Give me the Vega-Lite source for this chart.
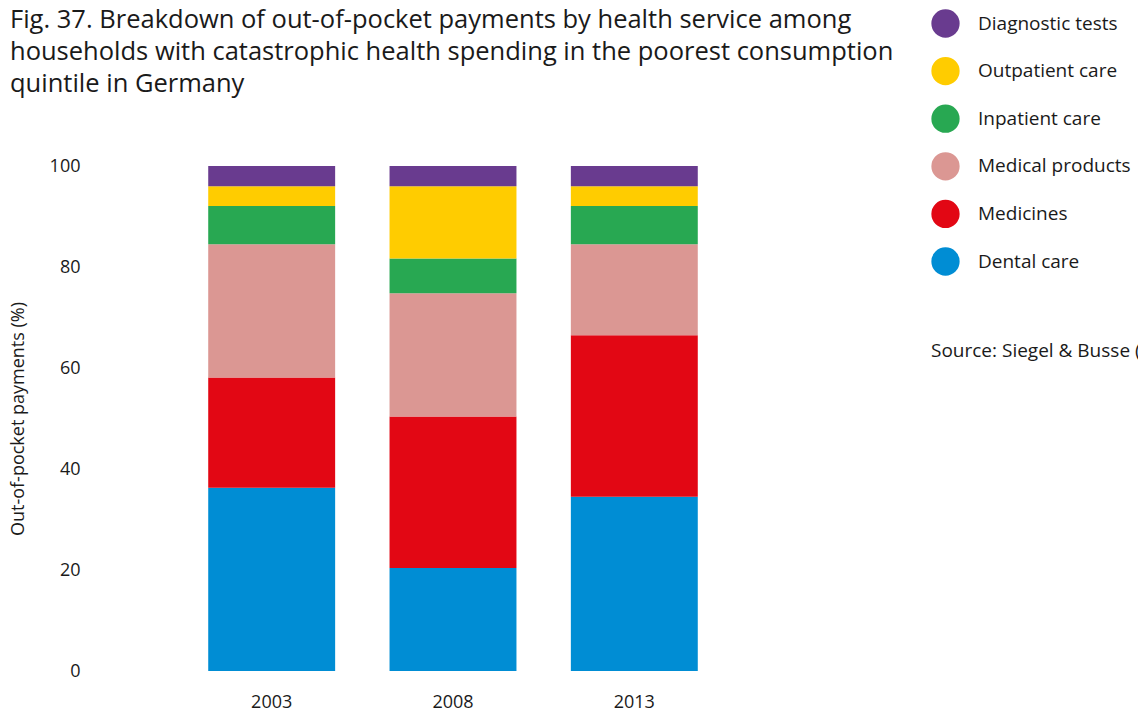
{
  "$schema": "https://vega.github.io/schema/vega-lite/v6.json",
  "autosize": "none",
  "width": 726,
  "height": 505,
  "padding": {"left": 90, "top": 166, "right": 322, "bottom": 42},
  "background": "white",
  "config": {
    "font": "Open Sans",
    "view": {"stroke": null},
    "axis": {"labelColor": "#1a1a1a", "titleColor": "#1a1a1a", "labelFont": "Open Sans", "titleFont": "Open Sans"},
    "legend": {"labelColor": "#1a1a1a", "titleColor": "#1a1a1a", "labelFont": "Open Sans", "titleFont": "Open Sans", "padding": 0}
  },
  "title": {
    "text": ["Fig. 37. Breakdown of out-of-pocket payments by health service among", "households with catastrophic health spending in the poorest consumption", "quintile in Germany"],
    "anchor": "start",
    "frame": "group",
    "dx": -80,
    "dy": 113,
    "offset": 0,
    "baseline": "bottom",
    "fontSize": 25.5,
    "lineHeight": 32,
    "fontWeight": "normal",
    "color": "#1a1a1a",
    "font": "Open Sans"
  },
  "layer": [
    {
      "data": {
        "values": [
          {"year": "2003", "service": "Dental care", "value": 36.3},
          {"year": "2003", "service": "Medicines", "value": 21.8},
          {"year": "2003", "service": "Medical products", "value": 26.4},
          {"year": "2003", "service": "Inpatient care", "value": 7.6},
          {"year": "2003", "service": "Outpatient care", "value": 3.9},
          {"year": "2003", "service": "Diagnostic tests", "value": 4.0},
          {"year": "2008", "service": "Dental care", "value": 20.4},
          {"year": "2008", "service": "Medicines", "value": 30.0},
          {"year": "2008", "service": "Medical products", "value": 24.4},
          {"year": "2008", "service": "Inpatient care", "value": 6.9},
          {"year": "2008", "service": "Outpatient care", "value": 14.3},
          {"year": "2008", "service": "Diagnostic tests", "value": 4.0},
          {"year": "2013", "service": "Dental care", "value": 34.5},
          {"year": "2013", "service": "Medicines", "value": 32.0},
          {"year": "2013", "service": "Medical products", "value": 18.0},
          {"year": "2013", "service": "Inpatient care", "value": 7.6},
          {"year": "2013", "service": "Outpatient care", "value": 3.9},
          {"year": "2013", "service": "Diagnostic tests", "value": 4.0}
        ]
      },
      "transform": [
        {"calculate": "indexof(['Dental care','Medicines','Medical products','Inpatient care','Outpatient care','Diagnostic tests'], datum.service)", "as": "stackOrder"}
      ],
      "mark": {"type": "bar"},
      "encoding": {
        "x": {
          "field": "year", "type": "nominal",
          "scale": {"paddingInner": 0.3, "paddingOuter": 0.652},
          "axis": {"title": null, "labelAngle": 0, "ticks": false, "domain": false, "labelFontSize": 18, "labelPadding": 22, "labelBaseline": "top"}
        },
        "y": {
          "field": "value", "type": "quantitative", "stack": "zero",
          "scale": {"domain": [0, 100]},
          "axis": {"title": "Out-of-pocket payments (%)", "titleFontSize": 18, "titleFontWeight": "normal", "titlePadding": 22, "grid": false, "ticks": false, "domain": false, "labelFontSize": 18, "labelPadding": 10, "values": [0, 20, 40, 60, 80, 100]}
        },
        "order": {"field": "stackOrder", "type": "quantitative"},
        "color": {
          "field": "service", "type": "nominal",
          "scale": {
            "domain": ["Diagnostic tests", "Outpatient care", "Inpatient care", "Medical products", "Medicines", "Dental care"],
            "range": ["#693b8f", "#ffcc00", "#28a852", "#db9793", "#e20714", "#008dd4"]
          },
          "legend": {
            "title": null,
            "orient": "none",
            "legendX": 841,
            "legendY": -157,
            "symbolType": "circle",
            "symbolSize": 800,
            "symbolStrokeWidth": 0,
            "symbolOpacity": 1,
            "labelFontSize": 19,
            "labelOffset": 18,
            "rowPadding": 18.6,
            "labelLimit": 300
          }
        }
      }
    },
    {
      "data": {"values": [{"note": "Source: Siegel & Busse (2018)"}]},
      "mark": {"type": "point", "opacity": 0},
      "encoding": {
        "shape": {
          "field": "note", "type": "nominal",
          "legend": {
            "title": null,
            "orient": "none",
            "legendX": 822,
            "legendY": 175,
            "symbolOpacity": 0,
            "symbolSize": 0,
            "symbolStrokeWidth": 0,
            "labelOffset": 0,
            "labelFontSize": 19,
            "labelLimit": 400
          }
        }
      }
    }
  ]
}
